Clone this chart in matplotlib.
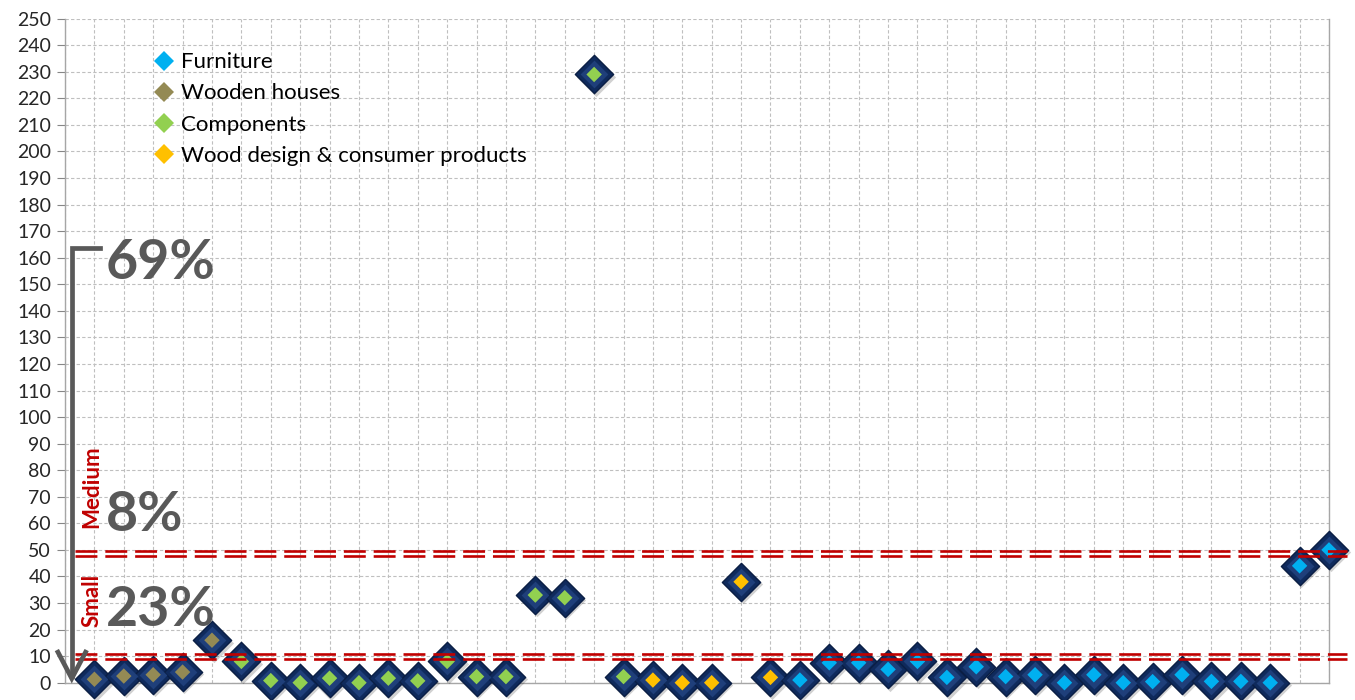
import matplotlib
matplotlib.use("Agg")
import matplotlib.pyplot as plt
from matplotlib.lines import Line2D
import numpy as np

plt.rcParams["font.family"] = ["Lato", "DejaVu Sans"]

# values, one per company, left to right
values = [1.3, 2.5, 3, 4, 16,
          8, 0.8, 0, 1.7, 0, 1.7, 0.7, 8, 2.3, 2.3, 33, 32, 229, 2.3,
          1, 0, 0, 38, 2,
          1, 7.5, 7.5, 5, 8, 2, 6, 2.3, 3, 0, 3, 0, 0.4, 3, 0.5, 0.5, 0, 44, 50]
sectors = (["Wooden houses"] * 5 + ["Components"] * 14
           + ["Wood design & consumer products"] * 5 + ["Furniture"] * 19)

legend_order = ["Furniture", "Wooden houses", "Components", "Wood design & consumer products"]
sector_colors = {
    "Furniture": "#00B0F0",
    "Wooden houses": "#948A54",
    "Components": "#92D050",
    "Wood design & consumer products": "#FFC000",
}

size_bounds = [(9.0, 10.7), (47.8, 49.6)]   # small / medium thresholds (double lines)
share_labels = ["69%", "8%", "23%"]
share_y = [158, 63, 27.4]
class_labels = ["Medium", "Small"]
class_y = [73.7, 30.8]

n = len(values)
x = np.arange(1, n + 1)

fig = plt.figure(figsize=(13.55, 7.0), dpi=100)
ax = fig.add_axes([65 / 1355, 17.3 / 700, (1329 - 65) / 1355, (682.7 - 18.7) / 700])

ax.set_xlim(0, n)
ax.set_ylim(0, 250)
ax.set_yticks(np.arange(0, 251, 10))
ax.set_xticks(np.arange(0, n + 1, 1))
ax.tick_params(axis="x", length=0, labelbottom=False)
ax.tick_params(axis="y", length=6, color="#868686", labelsize=14, labelcolor="#262626", pad=4)
ax.grid(True, color="#BFBFBF", linestyle=(0, (3, 2)), linewidth=0.8)
ax.set_axisbelow(True)
for side in ["left", "bottom", "right", "top"]:
    ax.spines[side].set_color("#A6A6A6")
    ax.spines[side].set_linewidth(1.0)
ax.spines["top"].set_visible(False)

fill = [sector_colors[s] for s in sectors]
# outer navy diamond, lighter inner bevel, then the sector colour
ax.scatter(x + 0.06, np.array(values) - 0.9, s=400, marker="D", color="#000000", alpha=0.18,
           linewidths=0, zorder=3, clip_on=False)
ax.scatter(x, values, s=380, marker="D", color="#0F2A5C", edgecolors="#0A1E44",
           linewidths=1.0, zorder=4, clip_on=False)
ax.scatter(x, values, s=200, marker="D", color="#1F3F7A", linewidths=0, zorder=5, clip_on=False)
ax.scatter(x, values, s=62, marker="D", color=fill, linewidths=0, zorder=6, clip_on=False)

# red double threshold lines
for lo, hi in size_bounds:
    for yv in (lo, hi):
        ax.plot([0.34, n + 0.62], [yv, yv], color="#C00000", linewidth=1.9,
                dashes=(8.3, 3.0), zorder=7, clip_on=False)

# grey bracket arrow
grey = "#595959"
ax.plot([1.19, 0.23, 0.23], [163.6, 163.6, 2.5], color=grey, linewidth=3.4,
        solid_joinstyle="miter", zorder=8, clip_on=False)
ax.plot([-0.24, 0.23, 0.70], [11.5, 1.6, 11.5], color=grey, linewidth=3.4,
        solid_joinstyle="miter", zorder=8, clip_on=False)

for lab, yv in zip(share_labels, share_y):
    ax.text(1.38, yv, lab, fontsize=40, fontweight="bold", color=grey,
            ha="left", va="center", zorder=9)
for lab, yv in zip(class_labels, class_y):
    ax.text(0.92, yv, lab, fontsize=16, fontweight="bold", color="#C00000",
            rotation=90, ha="center", va="center", zorder=9)

handles = [Line2D([], [], linestyle="none", marker="D", markersize=10,
                  markerfacecolor=sector_colors[s], markeredgewidth=0, label=s)
           for s in legend_order]
ax.legend(handles=handles, loc="upper left", bbox_to_anchor=(0.0653, 0.9627), frameon=False,
          fontsize=16, labelspacing=0.5, handlelength=0.7, handletextpad=0.4,
          borderaxespad=0)

fig.savefig("out.png", dpi=100)
